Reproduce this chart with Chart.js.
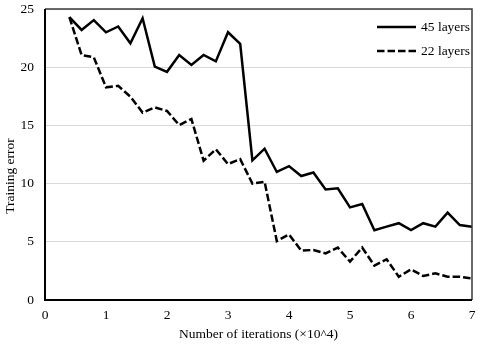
<!DOCTYPE html>
<html>
<head>
<meta charset="utf-8">
<script src="https://cdn.jsdelivr.net/npm/chart.js@4.4.1/dist/chart.umd.min.js"></script>
<style>
  html, body { margin: 0; padding: 0; background: #fff; }
  #box { width: 480px; height: 344px; }
</style>
</head>
<body>
<div id="box"><canvas id="myChart"></canvas></div>
<script>
// iteraciones (x10^4)
const iteraciones = [0.4, 0.6, 0.8, 1.0, 1.2, 1.4, 1.6, 1.8, 2.0, 2.2, 2.4, 2.6, 2.8, 3.0, 3.2, 3.4, 3.6,
    3.8, 4.0, 4.2, 4.4, 4.6, 4.8, 5.0, 5.2, 5.4, 5.6, 5.8, 6.0, 6.2, 6.4, 6.6, 6.8, 7.0];
const error45 = [24.3, 23.2, 24.05, 23.0, 23.5, 22.05, 24.2, 20.05, 19.6, 21.05, 20.2, 21.05, 20.5, 23.0, 22.0, 12.0, 13.0,
    11.0, 11.5, 10.65, 10.95, 9.5, 9.6, 7.96, 8.25, 6.0, 6.3, 6.6, 6.0, 6.6, 6.3, 7.5, 6.44, 6.3];
const error22 = [24.3, 21.05, 20.85, 18.27, 18.4, 17.47, 16.1, 16.55, 16.24, 15.03, 15.55, 11.97, 12.95, 11.68, 12.1, 10.0, 10.16,
    5.07, 5.64, 4.24, 4.3, 4.0, 4.5, 3.3, 4.5, 2.95, 3.5, 2.0, 2.63, 2.06, 2.29, 2.0, 2.0, 1.86];
const nombresSeries = ['45 layers', '22 layers'];
const ticksY = [0, 5, 10, 15, 20, 25];
const ticksX = [0, 1, 2, 3, 4, 5, 6, 7];
const tituloY = 'Training error';
const tituloX = 'Number of iterations (×10^4)';

const fuente = { family: 'Liberation Serif', size: 13.5 };

function armarPuntos(valores) {
    return iteraciones.map((x, i) => ({ x: x, y: valores[i] }));
}

// marco + leyenda + titulo Y (Excel lo pone mas abajo del centro)
const marcoYLeyenda = {
    id: 'marcoYLeyenda',
    afterDraw(chart) {
        const ctx = chart.ctx;
        const a = chart.chartArea;
        ctx.save();
        ctx.strokeStyle = '#3a3a3a';
        ctx.lineWidth = 1.5;
        ctx.beginPath();
        ctx.moveTo(a.left, a.top);
        ctx.lineTo(a.right, a.top);
        ctx.lineTo(a.right, a.bottom);
        ctx.stroke();
        ctx.strokeStyle = '#000';
        ctx.lineWidth = 2;
        ctx.beginPath();
        ctx.moveTo(a.left, a.top);
        ctx.lineTo(a.left, a.bottom);
        ctx.lineTo(a.right, a.bottom);
        ctx.stroke();

        ctx.font = '13.5px "Liberation Serif"';
        ctx.fillStyle = '#000';
        ctx.textBaseline = 'middle';

        const filas = [27, 51];
        chart.data.datasets.forEach((ds, i) => {
            const y = filas[i];
            ctx.strokeStyle = '#000';
            ctx.lineWidth = 2.5;
            ctx.setLineDash(ds.borderDash || []);
            ctx.beginPath();
            ctx.moveTo(377, y);
            ctx.lineTo(416, y);
            ctx.stroke();
            ctx.setLineDash([]);
            ctx.textAlign = 'left';
            ctx.fillText(ds.label, 421, y);
        });

        ctx.translate(10, 176);
        ctx.rotate(-Math.PI / 2);
        ctx.textAlign = 'center';
        ctx.fillText(tituloY, 0, 0);
        ctx.restore();
    }
};

const graficoHtml = document.getElementById('myChart').getContext('2d');
const graficoNuevo = new Chart(graficoHtml, {
    type: 'line',
    data: {
        datasets: [{
            label: nombresSeries[0],
            data: armarPuntos(error45),
            borderColor: '#000',
            borderWidth: 2.5,
            pointRadius: 0,
            tension: 0,
            fill: false
        }, {
            label: nombresSeries[1],
            data: armarPuntos(error22),
            borderColor: '#000',
            borderWidth: 2.5,
            borderDash: [7.5, 3],
            pointRadius: 0,
            tension: 0,
            fill: false
        }]
    },
    options: {
        responsive: true,
        maintainAspectRatio: false,
        animation: false,
        layout: { padding: { top: 9, right: 8, left: 0, bottom: 0 } },
        plugins: {
            legend: { display: false },
            tooltip: { enabled: false }
        },
        scales: {
            x: {
                type: 'linear',
                min: 0,
                max: 7,
                afterBuildTicks(s) { s.ticks = ticksX.map(v => ({ value: v })); },
                afterFit(s) { s.height = 44; s.paddingLeft = 0; s.paddingRight = 0; },
                grid: { display: false, drawTicks: false },
                border: { display: false },
                ticks: { color: '#000', font: fuente, padding: 7 },
                title: {
                    display: true,
                    text: tituloX,
                    color: '#000',
                    font: fuente,
                    padding: { top: 0, bottom: 1 }
                }
            },
            y: {
                min: 0,
                max: 25,
                afterBuildTicks(s) { s.ticks = ticksY.map(v => ({ value: v })); },
                afterFit(s) { s.width = 45; s.paddingTop = 0; s.paddingBottom = 0; },
                grid: { color: '#d9d9d9', lineWidth: 1, drawTicks: false },
                border: { display: false },
                ticks: { color: '#000', font: fuente, padding: 11 }
            }
        }
    },
    plugins: [marcoYLeyenda]
});
</script>
</body>
</html>
